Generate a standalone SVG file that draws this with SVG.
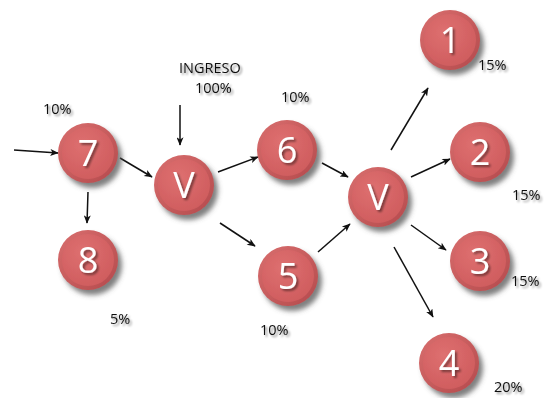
<svg xmlns="http://www.w3.org/2000/svg" width="552" height="398" viewBox="0 0 552 398">
<defs>
<radialGradient id="face" cx="0.4" cy="0.35" r="0.7">
<stop offset="0" stop-color="#de7070"/>
<stop offset="1" stop-color="#cf5c5e"/>
</radialGradient>
<linearGradient id="rim" x1="0" y1="0" x2="1" y2="1">
<stop offset="0" stop-color="#d96e6e"/>
<stop offset="1" stop-color="#b44a4c"/>
</linearGradient>
<filter id="sh" x="-40%" y="-40%" width="180%" height="180%">
<feGaussianBlur in="SourceAlpha" stdDeviation="2.5"/>
<feOffset dx="4" dy="5" result="b"/>
<feFlood flood-color="#555" flood-opacity="0.75"/>
<feComposite in2="b" operator="in"/>
<feMerge><feMergeNode/><feMergeNode in="SourceGraphic"/></feMerge>
</filter>
<filter id="tsh" x="-30%" y="-30%" width="160%" height="160%">
<feGaussianBlur in="SourceAlpha" stdDeviation="1.2"/>
<feOffset dx="1.5" dy="2" result="b"/>
<feFlood flood-color="#000" flood-opacity="0.45"/>
<feComposite in2="b" operator="in"/>
<feMerge><feMergeNode/><feMergeNode in="SourceGraphic"/></feMerge>
</filter>
<marker id="ah" viewBox="0 0 12 10" refX="11" refY="5" markerWidth="11" markerHeight="7" markerUnits="userSpaceOnUse" orient="auto">
<path d="M0,0 L12,5 L0,10 L3,5 Z" fill="#111"/>
</marker>
<g id="ball">
<circle r="30" fill="url(#rim)"/>
<circle r="26" fill="url(#face)"/>
</g>
</defs>
<style>
.lbl{font-family:"Open Sans","Liberation Sans",sans-serif;font-size:36px;fill:#fff;text-anchor:middle;filter:url(#tsh)}
.pct{font-family:"Open Sans","Liberation Sans",sans-serif;font-size:14.5px;fill:#111;filter:url(#tsh)}
.c{stroke:#111;stroke-width:1.5;fill:none;marker-end:url(#ah)}
</style>
<rect width="552" height="398" fill="#fff"/>
<g id="connectors">
<line class="c" x1="14" y1="150" x2="58" y2="153"/>
<line class="c" x1="120" y1="158" x2="152" y2="177"/>
<line class="c" x1="180" y1="105" x2="180" y2="145"/>
<line class="c" x1="218" y1="172" x2="258" y2="157"/>
<line class="c" x1="88" y1="192" x2="87" y2="223"/>
<line class="c" x1="220" y1="223" x2="255" y2="246"/>
<line class="c" x1="322" y1="163" x2="348" y2="177"/>
<line class="c" x1="318" y1="252" x2="350" y2="224"/>
<line class="c" x1="391" y1="150" x2="428" y2="88"/>
<line class="c" x1="411" y1="177" x2="450" y2="159"/>
<line class="c" x1="411" y1="225" x2="446" y2="250"/>
<line class="c" x1="394" y1="247" x2="433" y2="317"/>
</g>
<g id="n7" filter="url(#sh)"><use href="#ball" x="88" y="153"/></g>
<text class="lbl" x="88" y="166">7</text>
<g id="nV1" filter="url(#sh)"><use href="#ball" x="184" y="185"/></g>
<text class="lbl" x="184" y="198">V</text>
<g id="n6" filter="url(#sh)"><use href="#ball" x="287" y="150"/></g>
<text class="lbl" x="287" y="163">6</text>
<g id="n8" filter="url(#sh)"><use href="#ball" x="88" y="260"/></g>
<text class="lbl" x="88" y="273">8</text>
<g id="n5" filter="url(#sh)"><use href="#ball" x="288" y="276"/></g>
<text class="lbl" x="288" y="289">5</text>
<g id="nV2" filter="url(#sh)"><use href="#ball" x="378" y="197"/></g>
<text class="lbl" x="378" y="210">V</text>
<g id="n1" filter="url(#sh)"><use href="#ball" x="450" y="40"/></g>
<text class="lbl" x="450" y="53">1</text>
<g id="n2" filter="url(#sh)"><use href="#ball" x="480" y="152"/></g>
<text class="lbl" x="480" y="165">2</text>
<g id="n3" filter="url(#sh)"><use href="#ball" x="480" y="261"/></g>
<text class="lbl" x="480" y="274">3</text>
<g id="n4" filter="url(#sh)"><use href="#ball" x="449" y="363"/></g>
<text class="lbl" x="449" y="376">4</text>
<g id="labels">
<text class="pct" x="43" y="114">10%</text>
<text class="pct" x="179" y="73">INGRESO</text>
<text class="pct" x="195" y="93">100%</text>
<text class="pct" x="281" y="102">10%</text>
<text class="pct" x="478" y="70">15%</text>
<text class="pct" x="512" y="200">15%</text>
<text class="pct" x="511" y="286">15%</text>
<text class="pct" x="494" y="392">20%</text>
<text class="pct" x="110" y="324">5%</text>
<text class="pct" x="260" y="335">10%</text>
</g>
</svg>
